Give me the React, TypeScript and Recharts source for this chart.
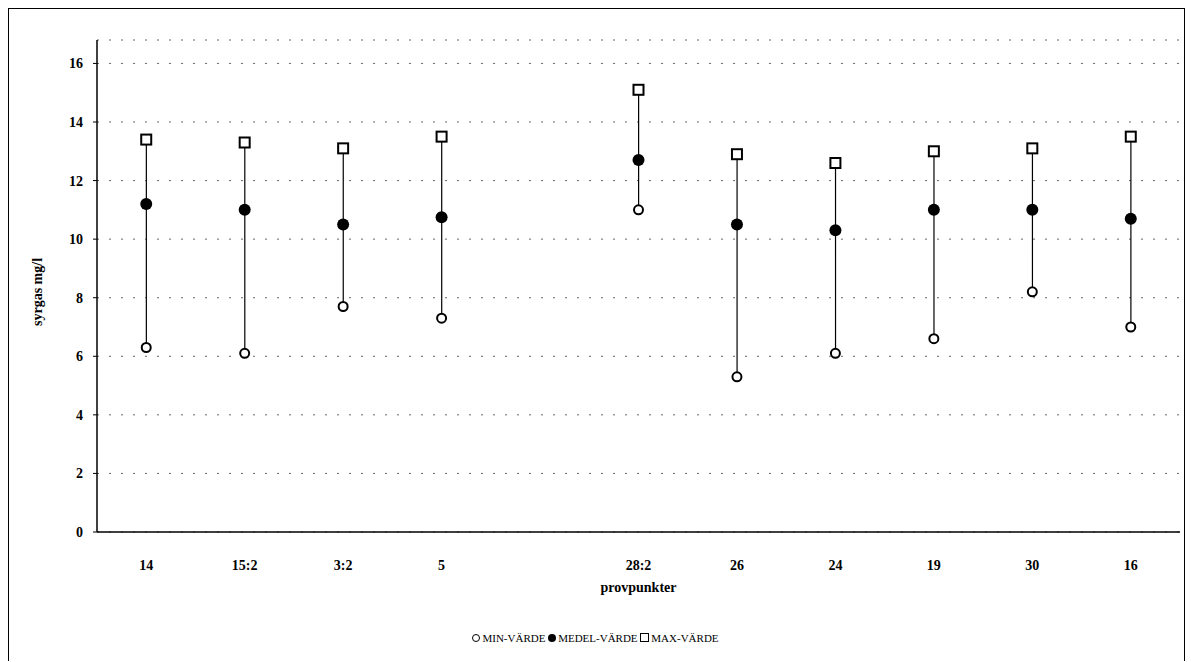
import React from 'react';
import { ComposedChart, Scatter, Bar, XAxis, YAxis, CartesianGrid } from 'recharts';

const categories = ['14', '15:2', '3:2', '5', '', '28:2', '26', '24', '19', '30', '16'];
const minValues = [6.3, 6.1, 7.7, 7.3, null, 11.0, 5.3, 6.1, 6.6, 8.2, 7.0];
const meanValues = [11.2, 11.0, 10.5, 10.75, null, 12.7, 10.5, 10.3, 11.0, 11.0, 10.7];
const maxValues = [13.4, 13.3, 13.1, 13.5, null, 15.1, 12.9, 12.6, 13.0, 13.1, 13.5];
const yTicks = [0, 2, 4, 6, 8, 10, 12, 14, 16];

const data = categories.map((c, i) => ({
  name: c,
  min: minValues[i],
  mean: meanValues[i],
  max: maxValues[i],
  range: minValues[i] == null ? null : [minValues[i], maxValues[i]],
}));

const font = '"Liberation Serif", "Times New Roman", serif';

const RangeLine = (p: any) => {
  if (!p.height && p.height !== 0) return null;
  const cx = p.x + p.width / 2;
  return <line x1={cx} x2={cx} y1={p.y} y2={p.y + p.height} stroke="#000" strokeWidth={1.2} />;
};

const OpenCircle = (p: any) => <circle cx={p.cx} cy={p.cy} r={4.5} fill="#fff" stroke="#000" strokeWidth={2} />;
const FilledCircle = (p: any) => <circle cx={p.cx} cy={p.cy} r={6} fill="#000" />;
const OpenSquare = (p: any) => <rect x={p.cx - 5} y={p.cy - 5} width={10} height={10} fill="#fff" stroke="#000" strokeWidth={2} />;

export default function App() {
  return (
    <div style={{ position: 'absolute', left: 0, top: 0, width: 1191, height: 662, background: '#fff', fontFamily: font }}>
      <div style={{ position: 'absolute', left: 8, top: 8, width: 1175, height: 652, border: '1px solid #000', borderBottom: 'none' }} />
      <ComposedChart width={1191} height={662} data={data} margin={{ top: 40, right: 11, left: 37, bottom: 100 }}>
        <CartesianGrid vertical={false} stroke="#666" strokeDasharray="2 10" />
        <XAxis
          dataKey="name"
          height={30}
          axisLine={{ stroke: '#000', strokeWidth: 1.5 }}
          tickLine={false}
          tick={{ fill: '#000', fontSize: 14, fontWeight: 'bold', fontFamily: font }}
          dy={20}
          label={{ value: 'provpunkter', position: 'insideBottom', offset: -30, fill: '#000', fontSize: 14, fontWeight: 'bold', fontFamily: font }}
        />
        <YAxis
          domain={[0, 16.8]}
          ticks={yTicks}
          width={60}
          axisLine={{ stroke: '#000', strokeWidth: 1.5 }}
          tickLine={{ stroke: '#000' }}
          tickSize={4}
          tick={{ fill: '#000', fontSize: 14, fontWeight: 'bold', fontFamily: font }}
          dx={-8}
          allowDataOverflow
          label={{ value: 'syrgas mg/l', angle: -90, position: 'insideLeft', offset: 0, dy: 40, fill: '#000', fontSize: 14, fontWeight: 'bold', fontFamily: font }}
        />
        <Bar dataKey="range" shape={RangeLine} isAnimationActive={false} />
        <Scatter dataKey="min" shape={OpenCircle} isAnimationActive={false} />
        <Scatter dataKey="mean" shape={FilledCircle} isAnimationActive={false} />
        <Scatter dataKey="max" shape={OpenSquare} isAnimationActive={false} />
      </ComposedChart>
      <div style={{ position: 'absolute', left: 0, width: 1191, top: 632, textAlign: 'center', fontSize: 11, color: '#000', fontFamily: font }}>
        <span style={{ display: 'inline-block', width: 6, height: 6, borderRadius: 4, border: '1.5px solid #000', marginRight: 2 }} />MIN-VÄRDE{' '}
        <span style={{ display: 'inline-block', width: 8, height: 8, borderRadius: 5, background: '#000', marginRight: 2 }} />MEDEL-VÄRDE{' '}
        <span style={{ display: 'inline-block', width: 7, height: 7, border: '1.5px solid #000', marginRight: 2 }} />MAX-VÄRDE
      </div>
    </div>
  );
}
